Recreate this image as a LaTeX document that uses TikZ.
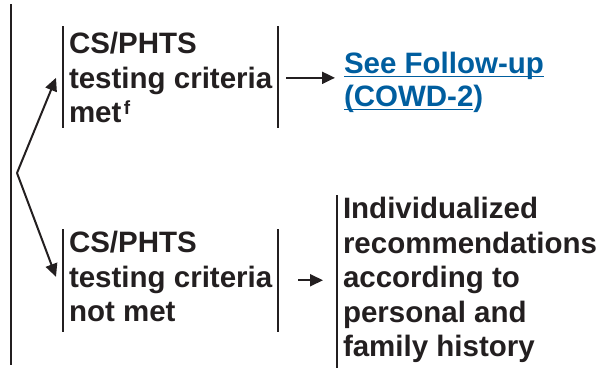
\documentclass[tikz,border=0pt]{standalone}
\usepackage{fontspec}
\setmainfont{Liberation Sans}
\usetikzlibrary{arrows.meta}

\definecolor{linkblue}{RGB}{0,94,159}
\definecolor{inkgray}{RGB}{35,31,32}

% underline at a fixed depth, so descenders cross it
\newcommand{\lnk}[1]{\setbox0\hbox{#1}\rlap{\rule[-3.5pt]{\wd0}{1.8pt}}\box0}

\begin{document}
\begin{tikzpicture}[x=1pt,y=-1pt,->,>={Triangle[length=13pt,width=12pt]},
  line width=2pt,draw=inkgray,
  crit/.style={anchor=north west,align=left,inner xsep=5pt,inner ysep=0pt,
    text=inkgray,font=\fontsize{29.5}{34.5}\selectfont\bfseries},
  bar/.style={-,line width=2pt}]

  \useasboundingbox (0,0) rectangle (597,367);

  \node[crit] (met) at (63,31.5) {CS/PHTS\\testing criteria\\met\kern2.5pt\raisebox{8pt}{\fontsize{19}{19}\selectfont\bfseries f}};
  \node[crit] (notmet) at (63,230.5) {CS/PHTS\\testing criteria\\not met};
  \node[crit] (indiv) at (337,196.5) {Individualized\\recommendations\\according to\\personal and\\family history};
  \node[crit,inner xsep=0pt,text=linkblue,font=\fontsize{29.5}{33}\selectfont\bfseries]
    (follow) at (343,51.5) {\lnk{See Follow-up}\\\lnk{(COWD-2})};

  \coordinate (stemtop) at (11,4);
  \coordinate (stembot) at (11,365);
  \coordinate (fork) at (17,173);

  % bars beside the boxes
  \draw[bar] (stemtop) -- (stembot);
  \draw[bar] ([yshift=5.5pt]met.north west) -- ([yshift=-4pt]met.south west);
  \draw[bar] ([yshift=5.5pt]met.north east) -- ([yshift=-4pt]met.south east);
  \draw[bar] ([yshift=1.5pt]notmet.north west) -- ([yshift=-9pt]notmet.south west);
  \draw[bar] ([yshift=1.5pt]notmet.north east) -- ([yshift=-9pt]notmet.south east);
  \draw[bar] ([yshift=1.5pt]indiv.north west) -- ([yshift=-5pt]indiv.south west);

  \draw (fork) -- ([xshift=-7pt]met.west);
  \draw (fork) -- ([xshift=-7pt]notmet.west);
  \draw[shorten <=8pt,shorten >=8pt] (met.east) -- (met.east -| follow.west);
  \draw[shorten <=20pt,shorten >=14pt] (indiv.west -| notmet.east) -- (indiv.west);

\end{tikzpicture}
\end{document}
